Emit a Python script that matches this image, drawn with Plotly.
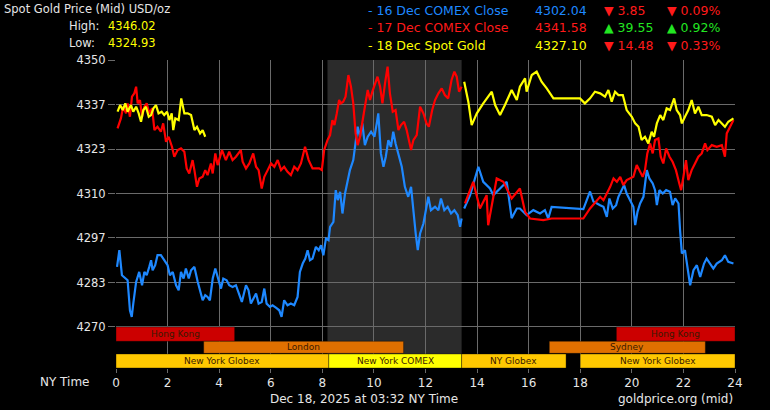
import plotly.graph_objects as go

# 16 Dec COMEX close (blue)
blue_h = [0.04, 0.13, 0.23, 0.36, 0.45, 0.54, 0.61, 0.67, 0.78, 0.90, 1.01, 1.10, 1.19, 1.29, 1.36, 1.42,
          1.52, 1.61, 1.74, 1.87, 2.00, 2.09, 2.20, 2.33, 2.43, 2.52, 2.62, 2.71, 2.82, 2.91, 3.04, 3.17,
          3.29, 3.36, 3.46, 3.55, 3.64, 3.75, 3.85, 3.94, 4.07, 4.16, 4.29, 4.39, 4.52, 4.65, 4.78, 4.88,
          5.04, 5.14, 5.23, 5.32, 5.43, 5.53, 5.65, 5.75, 5.84, 5.97, 6.07, 6.20, 6.33, 6.42, 6.52, 6.65,
          6.78, 6.91, 7.04, 7.13, 7.24, 7.34, 7.43, 7.52, 7.62, 7.75, 7.86, 7.95, 8.04, 8.14, 8.24,
          8.30, 8.43, 8.52, 8.60, 8.69, 8.78, 8.88, 8.98, 9.07, 9.20, 9.29, 9.37, 9.46, 9.55, 9.65, 9.76,
          9.89, 10.02, 10.11, 10.17, 10.27, 10.37, 10.46, 10.56, 10.66, 10.75, 10.84, 10.95, 11.08, 11.20,
          11.33, 11.44, 11.53, 11.62, 11.70, 11.79, 11.92, 12.01, 12.11, 12.21, 12.37, 12.50, 12.60, 12.73,
          12.86, 12.99, 13.12, 13.25, 13.34, 13.40, None,
          13.50, 13.73, 14.05, 14.24, 14.50, 14.63, 14.89, 15.15, 15.34, 15.54, 15.66, 15.92, 16.18, 16.44,
          16.63, 16.76, 16.89, 18.12, 18.38, 18.51,
          18.77, 18.90, 19.03, 19.13, 19.26, 19.39, 19.48, 19.61, 19.70, 19.80, 19.93, 20.06, 20.13, 20.22,
          20.32, 20.45, 20.58, 20.68, 20.81, 20.90, 20.97, 21.07, 21.20, 21.33, 21.48, 21.58, 21.68, 21.81,
          21.87, 21.94, 22.06, 22.15, 22.26, 22.39, 22.52, 22.65, 22.80, 22.90, 23.03, 23.16, 23.29, 23.49,
          23.61, 23.74, 23.94]
blue_v = [4288.0, 4293.0, 4285.5, 4284.5, 4284.0, 4275.0, 4273.0, 4277.0, 4283.5, 4286.5, 4282.5, 4286.5,
          4285.5, 4288.0, 4290.0, 4287.0, 4288.5, 4291.5, 4291.5, 4290.0, 4288.5, 4285.5, 4286.5, 4282.5,
          4281.0, 4286.5, 4284.5, 4287.5, 4284.5, 4287.0, 4288.0, 4283.5, 4280.5, 4278.0, 4279.5, 4279.0,
          4278.0, 4284.5, 4287.5, 4285.0, 4281.5, 4284.5, 4284.0, 4282.5, 4282.0, 4282.5, 4279.5, 4277.5,
          4282.5, 4281.0, 4277.0, 4278.5, 4280.0, 4277.0, 4277.5, 4281.5, 4277.0, 4276.0, 4276.5, 4275.8,
          4275.0, 4273.0, 4278.0, 4276.5, 4277.0, 4276.5, 4279.0, 4286.5, 4289.0, 4290.5, 4293.0, 4290.0,
          4290.5, 4294.0, 4293.0, 4294.5, 4291.5, 4296.5, 4296.0,
          4300.0, 4301.5, 4311.0, 4308.0, 4310.5, 4304.0, 4310.0, 4314.0, 4317.0, 4320.0, 4326.0, 4330.0,
          4327.0, 4331.0, 4324.5, 4327.0, 4328.5, 4327.0, 4331.0, 4334.0, 4322.0, 4318.0, 4321.0, 4326.0,
          4324.0, 4328.5, 4325.0, 4322.0, 4318.0, 4312.0, 4309.0, 4312.0, 4304.0, 4298.0, 4293.0, 4298.0,
          4301.0, 4305.0, 4309.0, 4305.0, 4306.0, 4305.0, 4308.5, 4305.0, 4306.0, 4304.0, 4305.0, 4303.5,
          4300.0, 4302.5, None,
          4305.5, 4309.5, 4318.0, 4313.5, 4311.5, 4309.5, 4311.5, 4313.5, 4302.6, 4305.5, 4305.5, 4303.5,
          4305.0, 4304.0, 4305.0, 4302.5, 4306.0, 4305.3, 4310.6, 4307.6,
          4306.5, 4306.0, 4303.0, 4308.5, 4305.5, 4306.5, 4309.0, 4311.0, 4312.5, 4310.0, 4308.0, 4306.0,
          4300.5, 4304.5, 4307.0, 4309.0, 4317.0, 4314.5, 4313.0, 4311.0, 4306.5, 4311.0, 4310.0, 4311.0,
          4310.5, 4306.5, 4308.5, 4307.0, 4299.0, 4292.0, 4293.0, 4288.0, 4282.5, 4287.0, 4288.5, 4285.0,
          4289.0, 4290.5, 4289.0, 4287.5, 4289.0, 4290.0, 4291.5, 4289.5, 4289.0]

# 17 Dec COMEX close (red)
red_h = [0.06, 0.19, 0.28, 0.39, 0.45, 0.54, 0.62, 0.71, 0.78, 0.84, 0.93, 1.01, 1.10, 1.19, 1.29, 1.40,
         1.49, 1.61, 1.74, 1.83, 1.94, 2.04, 2.17, 2.26, 2.39, 2.52, 2.65, 2.74, 2.84, 2.97, 3.04, 3.14,
         3.23, 3.36, 3.46, 3.55, 3.68, 3.75, 3.85, 3.94, 4.11, 4.26, 4.39, 4.52, 4.65, 4.84, 4.91, 5.04,
         5.17, 5.32, 5.43, 5.53, 5.65, 5.75, 5.88, 6.01, 6.14, 6.27, 6.40, 6.52, 6.65, 6.78, 6.91, 7.04,
         7.17, 7.33, 7.47, 7.62, 7.75, 7.88, 7.98, 8.07, 8.20, 8.30,
         8.39, 8.47, 8.56, 8.65, 8.72, 8.81, 8.90, 9.01, 9.11, 9.20, 9.29, 9.37, 9.46, 9.55, 9.65, 9.76,
         9.85, 9.94, 10.04, 10.14, 10.24, 10.33, 10.43, 10.53, 10.62, 10.73, 10.84, 10.95, 11.05, 11.17,
         11.27, 11.36, 11.44, 11.53, 11.66, 11.79, 11.92, 12.04, 12.13, 12.26, 12.37, 12.50, 12.63, 12.75,
         12.88, 13.01, 13.12, 13.21, 13.30, 13.40, None,
         13.53, 13.85, 14.11, 14.37, 14.43, 14.76, 15.02, 15.34, 15.66, 15.86, 16.05, 16.57, 16.89, 18.12,
         18.38,
         18.77, 18.90, 19.03, 19.16, 19.29, 19.42, 19.55, 19.67, 19.80, 19.93, 20.06, 20.19, 20.32, 20.42,
         20.51, 20.60, 20.71, 20.81, 20.90, 21.03, 21.12, 21.22, 21.33, 21.46, 21.58, 21.71, 21.84, 21.91,
         22.00, 22.10, 22.19, 22.32, 22.45, 22.58, 22.71, 22.84, 22.93, 23.10, 23.29, 23.49, 23.61, 23.68,
         23.81, 23.94]
red_v = [4329.5, 4332.5, 4336.0, 4334.0, 4337.0, 4333.0, 4339.0, 4340.0, 4342.0, 4337.0, 4338.0, 4333.0,
         4336.0, 4337.0, 4334.0, 4335.5, 4329.0, 4330.0, 4328.5, 4331.0, 4325.5, 4327.0, 4324.0, 4321.0,
         4323.0, 4323.5, 4322.5, 4317.5, 4316.0, 4320.0, 4317.0, 4312.0, 4314.5, 4315.0, 4317.0, 4315.5,
         4319.0, 4316.0, 4322.0, 4318.5, 4323.0, 4320.0, 4322.5, 4320.0, 4321.0, 4323.0, 4319.5, 4317.5,
         4319.0, 4322.0, 4318.0, 4317.0, 4311.5, 4315.0, 4317.0, 4319.0, 4318.0, 4320.0, 4317.0, 4318.0,
         4316.5, 4315.5, 4318.0, 4317.0, 4319.0, 4324.0, 4320.0, 4317.5, 4317.5, 4317.5, 4317.0, 4323.0,
         4326.0, 4327.5,
         4332.0, 4330.5, 4334.0, 4338.0, 4337.0, 4337.5, 4339.0, 4345.5, 4342.0, 4337.0, 4328.0, 4324.5,
         4327.0, 4332.0, 4336.0, 4341.0, 4338.0, 4340.5, 4343.0, 4345.0, 4342.0, 4337.0, 4343.0, 4348.0,
         4340.0, 4334.5, 4335.0, 4329.0, 4330.5, 4331.5, 4329.0, 4326.0, 4323.0, 4326.0, 4327.5, 4336.0,
         4334.0, 4331.0, 4330.0, 4335.0, 4338.0, 4340.0, 4341.5, 4339.5, 4338.5, 4344.0, 4346.5, 4345.0,
         4340.5, 4342.0, None,
         4307.0, 4313.5, 4305.5, 4309.5, 4300.5, 4314.5, 4313.5, 4308.5, 4311.5, 4304.5, 4302.5, 4302.0,
         4302.5, 4302.5, 4305.5,
         4309.0, 4308.0, 4310.0, 4312.0, 4314.5, 4313.5, 4315.0, 4312.5, 4314.0, 4314.5, 4315.0, 4318.5,
         4316.5, 4315.0, 4317.0, 4322.0, 4325.0, 4322.0, 4326.0, 4326.5, 4321.0, 4319.0, 4323.5, 4321.0,
         4319.5, 4317.0, 4313.0, 4311.0, 4315.0, 4320.0, 4314.0, 4317.0, 4319.0, 4321.0, 4322.0, 4325.0,
         4323.0, 4324.5, 4324.0, 4324.5, 4321.0, 4328.0, 4330.0, 4332.0]

# 18 Dec spot gold (yellow)
yellow_h = [0.06, 0.16, 0.26, 0.36, 0.45, 0.58, 0.67, 0.78, 0.88, 0.97, 1.06, 1.16, 1.27, 1.36, 1.45,
            1.55, 1.65, 1.77, 1.87, 1.98, 2.07, 2.16, 2.22, 2.30, 2.43, 2.53, 2.65, 2.78, 2.91, 3.04,
            3.14, 3.26, 3.36, 3.46, None,
            13.50, 13.66, 13.79, 13.99, 14.24, 14.57, 14.70, 14.89, 15.08, 15.34, 15.54, 15.66, 15.86,
            15.92, 16.12, 16.31, 16.50, 16.70, 16.96, 17.99, 18.18, 18.38, 18.57,
            18.77, 18.96, 19.09, 19.22, 19.35, 19.48, 19.65, 19.80, 20.00, 20.13, 20.26, 20.38, 20.51,
            20.64, 20.77, 20.86, 20.97, 21.10, 21.22, 21.35, 21.48, 21.64, 21.74, 21.87, 21.94, 22.06,
            22.19, 22.32, 22.45, 22.58, 22.71, 22.90, 23.10, 23.23, 23.36, 23.49, 23.61, 23.74, 23.94]
yellow_v = [4334.5, 4336.5, 4335.0, 4337.0, 4334.5, 4336.5, 4334.5, 4336.0, 4334.0, 4331.5, 4335.0,
            4336.0, 4333.0, 4333.5, 4335.5, 4336.5, 4334.0, 4334.5, 4333.5, 4334.5, 4332.0, 4334.0,
            4329.0, 4332.5, 4332.0, 4338.5, 4334.0, 4334.0, 4333.5, 4329.0, 4330.0, 4328.0, 4329.0,
            4327.0, None,
            4343.5, 4337.5, 4330.5, 4334.0, 4337.0, 4340.5, 4336.5, 4333.5, 4336.5, 4341.0, 4338.0,
            4342.0, 4344.5, 4340.5, 4345.5, 4346.5, 4343.5, 4341.5, 4338.5, 4338.5, 4337.0, 4338.5,
            4340.5,
            4340.0, 4339.0, 4341.0, 4337.5, 4340.5, 4339.5, 4339.5, 4335.0, 4333.0, 4331.0, 4330.0,
            4326.0, 4327.0, 4325.0, 4328.5, 4327.0, 4331.0, 4333.5, 4332.0, 4335.5, 4335.0, 4338.5,
            4335.0, 4333.5, 4331.0, 4333.0, 4335.0, 4338.0, 4334.0, 4336.0, 4333.5, 4333.5, 4333.0,
            4330.5, 4332.0, 4331.0, 4330.0, 4331.5, 4332.5]

# trading sessions: (name, start hour, end hour, row, colour)
sess_names = ["Hong Kong", "Hong Kong", "London", "Sydney", "New York Globex", "New York COMEX",
              "NY Globex", "New York Globex"]
sess_start = [0, 19.4, 3.4, 16.8, 0, 8.25, 13.4, 18.0]
sess_end = [4.6, 24, 11.15, 22.85, 8.25, 13.4, 17.45, 24]
sess_row = [0, 0, 1, 1, 2, 2, 2, 2]
sess_color = ["#cc0000", "#cc0000", "#e07000", "#e07000", "#ffc800", "#ffff00", "#ffc800", "#ffc800"]

y_ticks = [4270, 4283.33, 4296.67, 4310, 4323.33, 4336.67, 4350]
y_labels = ["4270", "4283", "4297", "4310", "4323", "4337", "4350"]
x_ticks = list(range(0, 25, 2))

FONT = "DejaVu Sans"
GRID = "#6a6a6a"
Y_MIN, Y_MAX = 4257.7, 4350
row_top = [4270.0, 4265.7, 4261.9]
row_bot = [4265.7, 4262.1, 4257.7]

fig = go.Figure()

fig.add_trace(go.Scatter(x=blue_h, y=blue_v, mode="lines", line=dict(color="#1e88ff", width=2.2),
                         connectgaps=False, hoverinfo="skip"))
fig.add_trace(go.Scatter(x=red_h, y=red_v, mode="lines", line=dict(color="#ff0000", width=2.2),
                         connectgaps=False, hoverinfo="skip"))
fig.add_trace(go.Scatter(x=yellow_h, y=yellow_v, mode="lines", line=dict(color="#ffff00", width=2.2),
                         connectgaps=False, hoverinfo="skip"))

# COMEX hours shading
fig.add_shape(type="rect", xref="x", yref="paper", x0=8.2, x1=13.4, y0=0, y1=1,
              fillcolor="#2b2b2b", line_width=0, layer="below")

for name, s, e, r, c in zip(sess_names, sess_start, sess_end, sess_row, sess_color):
    fig.add_shape(type="rect", x0=s, x1=e, y0=row_bot[r], y1=row_top[r], fillcolor=c,
                  line=dict(color="rgba(0,0,0,0.35)", width=1), layer="above")
    fig.add_annotation(x=(s + e) / 2, y=(row_bot[r] + row_top[r]) / 2, text=name, showarrow=False,
                       font=dict(family=FONT, size=9, color="#3a1a00"))

# header texts
fig.add_annotation(xref="paper", yref="paper", x=-114 / 619, y=1 + 51 / 308, xanchor="left",
                   yanchor="middle", text="Spot Gold Price (Mid) USD/oz", showarrow=False,
                   font=dict(family=FONT, size=11.5, color="#e6e6e6"))
for i, (lab, val) in enumerate([("High:", "4346.02"), ("Low:", "4324.93")]):
    yy = 1 + (34 - 17 * i) / 308
    fig.add_annotation(xref="paper", yref="paper", x=-49 / 619, y=yy, xanchor="left", yanchor="middle",
                       text=lab, showarrow=False, font=dict(family=FONT, size=11.5, color="#e6e6e6"))
    fig.add_annotation(xref="paper", yref="paper", x=-10 / 619, y=yy, xanchor="left", yanchor="middle",
                       text=val, showarrow=False, font=dict(family=FONT, size=11.5, color="#ffff00"))

legend_rows = [
    ("- 16 Dec COMEX Close", "#1e88ff", "4302.04", "▼ 3.85", "▼ 0.09%", "#ff1a1a"),
    ("- 17 Dec COMEX Close", "#ff1a1a", "4341.58", "▲ 39.55", "▲ 0.92%", "#22e622"),
    ("- 18 Dec Spot Gold", "#ffff00", "4327.10", "▼ 14.48", "▼ 0.33%", "#ff1a1a"),
]
for i, (lab, col, val, chg, pct, ccol) in enumerate(legend_rows):
    yy = 1 + (49 - 17 * i) / 308
    for xp, txt, tc in [(366, lab, col), (533, val, col), (602, chg, ccol), (665, pct, ccol)]:
        fig.add_annotation(xref="paper", yref="paper", x=(xp - 116) / 619, y=yy, xanchor="left",
                           yanchor="middle", text=txt, showarrow=False,
                           font=dict(family=FONT, size=12.5, color=tc))

# footer texts
fig.add_annotation(xref="paper", yref="paper", x=-24 / 619, y=-14 / 308, xanchor="right", yanchor="middle",
                   text="NY Time", showarrow=False, font=dict(family=FONT, size=12, color="#e6e6e6"))
fig.add_annotation(xref="paper", yref="paper", x=248 / 619, y=-31 / 308, xanchor="center", yanchor="middle",
                   text="Dec 18, 2025 at 03:32 NY Time", showarrow=False,
                   font=dict(family=FONT, size=12, color="#e6e6e6"))
fig.add_annotation(xref="paper", yref="paper", x=1, y=-31 / 308, xanchor="right", yanchor="middle",
                   text="goldprice.org (mid)", showarrow=False,
                   font=dict(family=FONT, size=12, color="#e6e6e6"))

fig.update_layout(
    width=770, height=410,
    margin=dict(l=116, r=35, t=60, b=42),
    paper_bgcolor="#000000", plot_bgcolor="#000000",
    showlegend=False,
    xaxis=dict(range=[0, 24], tickvals=x_ticks, showgrid=True, gridcolor=GRID, gridwidth=1,
               zeroline=False, ticks="outside", ticklen=4, tickcolor=GRID,
               tickfont=dict(family=FONT, size=12, color="#e6e6e6"), showline=False, fixedrange=True),
    yaxis=dict(range=[Y_MIN, Y_MAX], tickvals=y_ticks, ticktext=y_labels, showgrid=True, gridcolor=GRID,
               gridwidth=1, zeroline=False, ticks="outside", ticklen=7, tickcolor=GRID,
               tickfont=dict(family=FONT, size=11.5, color="#e6e6e6"), showline=False, fixedrange=True),
)

# page has a default 8px body margin; drop it so the chart sits flush in the window
fig.write_html("out.html", config={"displayModeBar": False},
               post_script="document.body.style.margin='0';document.body.style.background='#000';")
